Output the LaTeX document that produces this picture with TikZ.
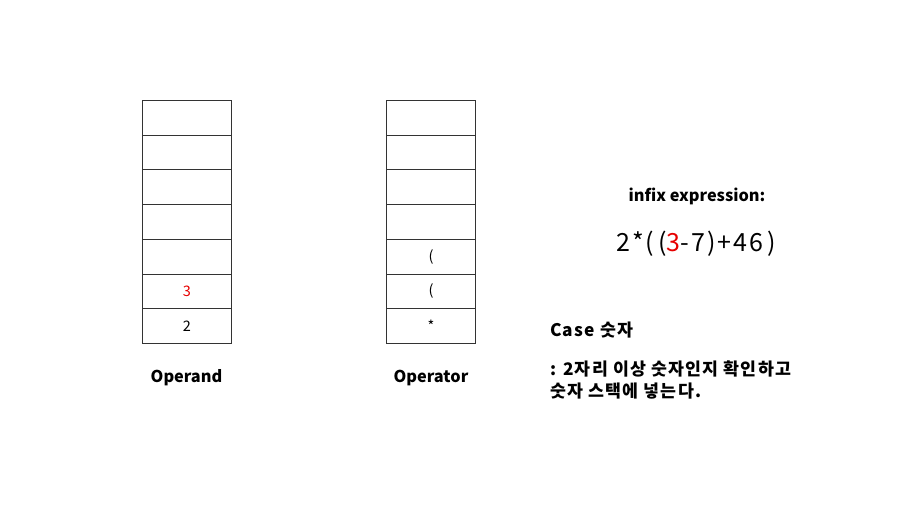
\documentclass[tikz,border=0pt]{standalone}
\usepackage{fontspec}
\setmainfont{Noto Sans CJK KR}
\begin{document}
\begin{tikzpicture}[x=1pt,y=-1pt,
  cell/.style={draw=black!80,line width=0.9pt,minimum width=89pt,minimum height=34.7pt,inner sep=0pt,font=\fontsize{14.5}{16}\selectfont,anchor=north west},
  lbl/.style={font=\bfseries\fontsize{16.3}{18}\selectfont,inner sep=0pt},
  txt/.style={font=\bfseries\fontsize{17.3}{22}\selectfont\addfontfeature{LetterSpace=7},inner sep=0pt,anchor=west,align=left}]
\useasboundingbox (0,0) rectangle (910,509);
\definecolor{myred}{RGB}{230,0,0}
% operand stack
\foreach \i in {0,...,6}{\node[cell] (a\i) at (142,{100+\i*34.7}) {};}
\node[cell] at (a5.north west) {\textcolor{myred}{3}};
\node[cell] at (a6.north west) {2};
% operator stack
\foreach \i in {0,...,6}{\node[cell] (b\i) at (386,{100+\i*34.7}) {};}
\node[cell] at (b4.north west) {(};
\node[cell] at (b5.north west) {(};
\node[cell] at (b6.north west) {*};
\node[lbl] (l1) at (186.5,378) {Operand};
\node[lbl] (l2) at (431,378) {Operator};
\node[lbl] (ie) at (697,196) {infix expression:};
\node[inner sep=0pt,font=\fontsize{25}{26}\selectfont\addfontfeature{LetterSpace=8}] (ex) at (696,244) {2*(\,(\textcolor{myred}{3}-7)+46\,)};
\node[txt] (c1) at (550,330) {Case 숫자};
\node[txt,anchor=north west] (c2) at (550,361) {: 2자리 이상 숫자인지 확인하고\\숫자 스택에 넣는다.};
\end{tikzpicture}
\end{document}
